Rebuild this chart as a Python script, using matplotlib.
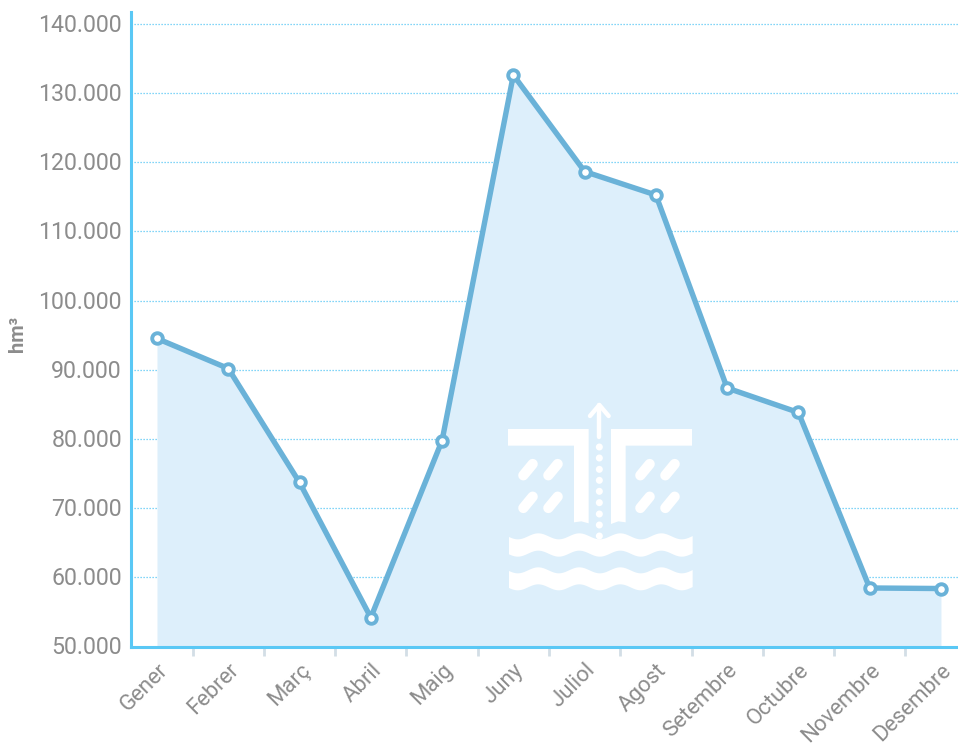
import numpy as np
import matplotlib
matplotlib.use("Agg")
import matplotlib.pyplot as plt
from matplotlib.patches import Polygon, Circle
from matplotlib.lines import Line2D
from matplotlib.transforms import Affine2D

months = ["Gener", "Febrer", "Març", "Abril", "Maig", "Juny", "Juliol", "Agost",
          "Setembre", "Octubre", "Novembre", "Desembre"]
values = [94530, 90190, 73710, 54190, 79780, 132620, 118670, 115270, 87370, 83830, 58460, 58380]
yticks = [50000, 60000, 70000, 80000, 90000, 100000, 110000, 120000, 130000, 140000]
ylabels = ["50.000", "60.000", "70.000", "80.000", "90.000", "100.000", "110.000",
           "120.000", "130.000", "140.000"]

W, H = 958, 748
LINE = "#6ab2d8"; FILL = "#ddeffb"; AXIS = "#5ac8f5"; TXT = "#8c8c8c"; TICK = "#d3dee6"
plt.rcParams["font.family"] = ["Roboto", "DejaVu Sans"]

fig = plt.figure(figsize=(W / 100, H / 100), dpi=100)
L, R, T, B = 131, 958, 12, 646.5
ax = fig.add_axes([L / W, 1 - B / H, (R - L) / W, (B - T) / H])
x = np.arange(len(months))
ax.set_xlim((L - 157) / 71.27, (R - 157) / 71.27)
ax.set_ylim(50000, 50000 + (B - T) / 6.917 * 1000)

ax.fill_between(x, values, 50000, color=FILL, lw=0, zorder=2)
ax.plot(x, values, color=LINE, lw=3.9, zorder=3, solid_joinstyle="miter", clip_on=False,
        marker="o", ms=7.6, mfc="white", mec=LINE, mew=2.8)

ax.set_yticks(yticks, ylabels, fontsize=16.7, color=TXT)
ax.tick_params(axis="y", length=0, pad=6.5)
for lab in ax.get_yticklabels():
    lab.set_transform(lab.get_transform() + Affine2D().translate(0, 1))
ax.set_xticks(x, months, fontsize=15.9, color=TXT, rotation=45, ha="right", rotation_mode="anchor")
ax.tick_params(axis="x", length=0, pad=9.5)
ax.set_xticks(x[:-1] + 0.5, minor=True)
ax.tick_params(axis="x", which="minor", length=6.5, width=2, color=TICK)
ax.grid(axis="y", color=AXIS, ls=(0, (1, 1.4)), lw=0.9, zorder=1)
ax.set_axisbelow(True)
for s in ("top", "right"):
    ax.spines[s].set_visible(False)
for s in ("left", "bottom"):
    ax.spines[s].set_color(AXIS)
    ax.spines[s].set_linewidth(2.2)
    ax.spines[s].set_zorder(2.5)

fig.text(18 / W, 1 - 334 / H, "hm³", rotation=90, ha="center", va="center",
         fontsize=14.5, fontweight="bold", color=TXT)

# white decorative icon, placed in pixel units (zoom-crop coordinates)
px = Affine2D().scale(1 / 3).translate(480, 390).scale(1, -1).translate(0, H)
def poly(pts):
    fig.add_artist(Polygon(pts, closed=True, fc="white", ec="none", transform=px, zorder=5))
def stroke(xs, ys, w):
    fig.add_artist(Line2D(xs, ys, color="white", lw=w, transform=px, zorder=5,
                          solid_capstyle="round", solid_joinstyle="round"))

poly([(84, 117), (326, 117), (326, 400), (304, 394), (282, 397), (282, 167), (84, 167)])
poly([(636, 117), (393, 117), (393, 402), (415, 394), (437, 397), (437, 167), (636, 167)])
for cx in (144, 219, 495, 570):
    for cy in (239, 337):
        stroke([cx - 14, cx + 14], [cy + 17, cy - 17], 7.4)
for cy in (171, 204, 238, 271, 304, 338, 372, 405, 438):
    fig.add_artist(Circle((358, cy), 10.5, fc="white", ec="none", transform=px, zorder=5))
stroke([358, 358], [140, 45], 3.2)
stroke([330, 358, 386], [78, 45, 78], 3.2)

def wave(top, bottom):
    xs = np.linspace(87, 638, 200)
    up = top - 9 * np.cos((xs - 175) * 2 * np.pi / 123)
    lo = bottom - 9 * np.cos((xs - 175) * 2 * np.pi / 123)
    poly(list(zip(xs, up)) + list(zip(xs[::-1], lo[::-1])))
wave(439, 491)
wave(541, 592)

fig.savefig("out.png", dpi=100)
